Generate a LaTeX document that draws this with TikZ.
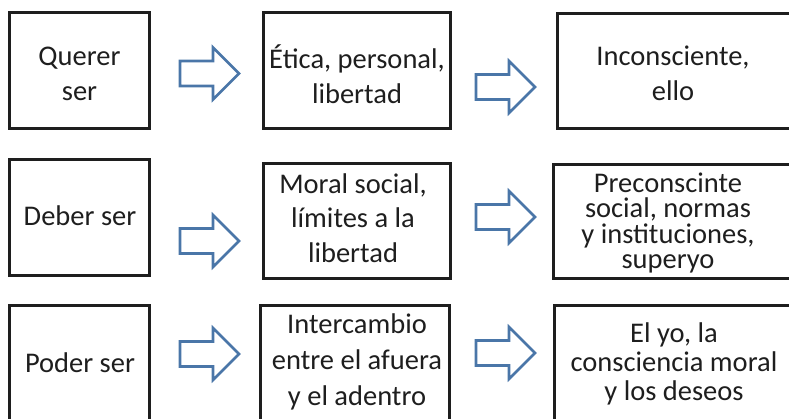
\documentclass[tikz,border=0pt]{standalone}
\usepackage{fontspec}
\setmainfont{Carlito}
\definecolor{boxline}{RGB}{30,30,30}
\definecolor{arrowblue}{RGB}{74,118,168}
\definecolor{txt}{RGB}{30,30,30}
\begin{document}
\begin{tikzpicture}[x=1pt,y=-1pt,
  box/.style={draw=boxline,line width=3pt,rectangle,inner sep=0pt},
  lbl/.style={anchor=north,inner sep=0pt,align=center,text=txt},
  arrowline/.style={draw=arrowblue,line width=2.6pt,fill=white},
  blockarrow/.pic={\path[arrowline] (0,-12.5) -- (33,-12.5) -- (33,-26) -- (59,0) -- (33,26) -- (33,12.5) -- (0,12.5) -- cycle;}]
\useasboundingbox (0,0) rectangle (789,418);
\clip (0,0) rectangle (789,418);
\newcommand{\fs}[1]{\fontsize{28.5}{#1}\selectfont\lineskiplimit=-100pt\relax}
% boxes
\node[box,minimum width=140pt,minimum height=115.5pt] (a1) at (79.5,70.25) {};
\node[box,minimum width=187pt,minimum height=116.5pt] (b1) at (356.5,70.25) {};
\node[box,minimum width=238pt,minimum height=115.5pt] (c1) at (676,70.75) {};
\node[box,minimum width=140pt,minimum height=116pt] (a2) at (79.5,217) {};
\node[box,minimum width=187pt,minimum height=115pt] (b2) at (356.5,221) {};
\node[box,minimum width=242pt,minimum height=114.5pt] (c2) at (674,221.25) {};
\node[box,minimum width=140pt,minimum height=125pt] (a3) at (79.5,367.5) {};
\node[box,minimum width=188.5pt,minimum height=124.5pt] (b3) at (354.75,367.75) {};
\node[box,minimum width=241pt,minimum height=124.5pt] (c3) at (674.5,367.75) {};
% texts (north anchor = first baseline - 20pt)
\node[lbl,font=\fs{35}] (ta1) at (79.5,45) {\rule{0pt}{20pt}Querer\\ser};
\node[lbl,font=\fs{35}] (tb1) at (357,45) {\rule{0pt}{20pt}Ética, personal,\\libertad};
\node[lbl,font=\fs{35}] (tc1) at (673,45) {\rule{0pt}{20pt}Inconsciente,\\ello};
\node[lbl,font=\fs{35}] (ta2) at (80,205) {\rule{0pt}{20pt}Deber ser};
\node[lbl,font=\fs{34.5}] (tb2) at (353,173) {\rule{0pt}{20pt}Moral social,\\límites a la\\libertad};
\node[lbl,font=\fs{25.5}] (tc2) at (668,172) {\rule{0pt}{20pt}Preconscinte\\social, normas\\y instituciones,\\superyo};
\node[lbl,font=\fs{35}] (ta3) at (80,352) {\rule{0pt}{20pt}Poder ser};
\node[lbl,font=\fs{36}] (tb3) at (357,313) {\rule{0pt}{20pt}Intercambio\\entre el afuera\\y el adentro};
\node[lbl,font=\fs{29}] (tc3) at (674,322) {\rule{0pt}{20pt}El yo, la\\consciencia moral\\y los deseos};
% arrows
\pic at (180,73.5) {blockarrow};
\pic at (476,87) {blockarrow};
\pic at (180,241) {blockarrow};
\pic at (476,217) {blockarrow};
\pic at (180,354) {blockarrow};
\pic at (476,353) {blockarrow};
\end{tikzpicture}
\end{document}
